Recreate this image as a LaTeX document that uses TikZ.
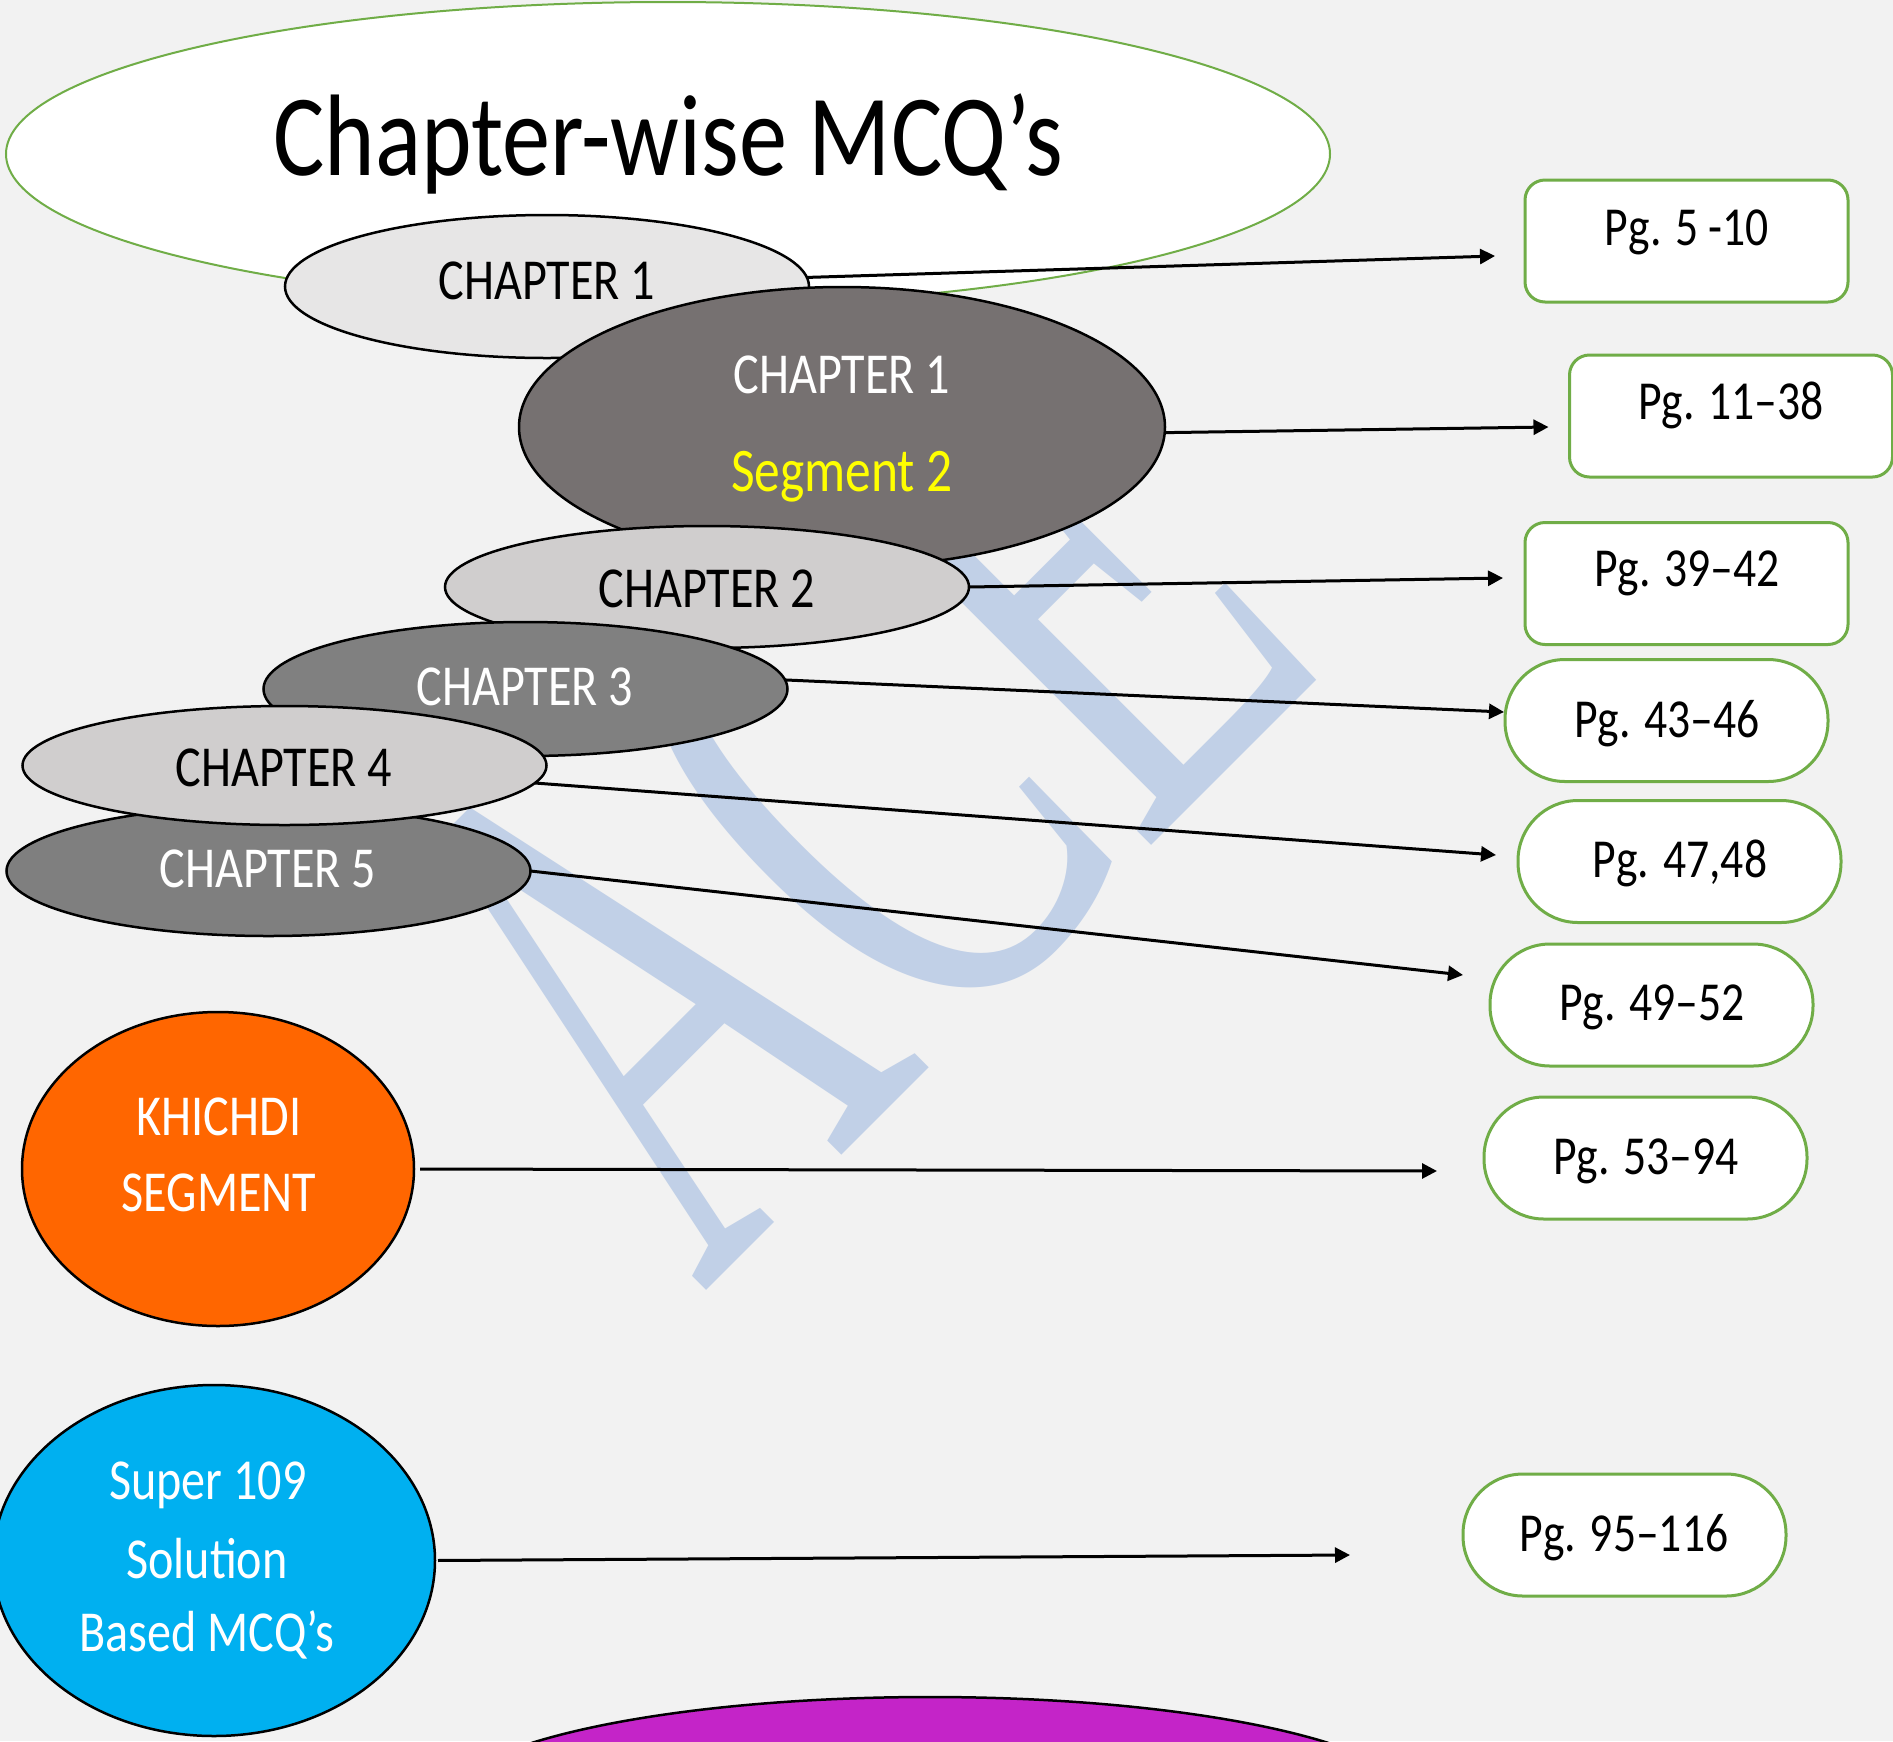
\documentclass[tikz,border=0pt]{standalone}
\usepackage{fontspec}
\setmainfont{Carlito}[FakeStretch=0.83]
\newfontfamily\wmfont{Liberation Serif}[FakeStretch=0.58]
\usetikzlibrary{shapes.geometric,arrows.meta,calc}
\definecolor{bg}{HTML}{F2F2F2}
\definecolor{titlegreen}{HTML}{70AD47}
\definecolor{boxgreen}{HTML}{70AD47}
\definecolor{ch1fill}{HTML}{E7E6E6}
\definecolor{seg2fill}{HTML}{767171}
\definecolor{ch2fill}{HTML}{D0CECE}
\definecolor{ch3fill}{HTML}{808080}
\definecolor{ch4fill}{HTML}{D0CECE}
\definecolor{ch5fill}{HTML}{7F7F7F}
\definecolor{khfill}{HTML}{FF6600}
\definecolor{supfill}{HTML}{00B0F0}
\definecolor{purp}{HTML}{C424C8}
\definecolor{segyellow}{HTML}{FFFF00}
\definecolor{wmblue}{HTML}{C1D0E7}
\newcommand{\fchap}{\fontsize{58}{60}\selectfont}
\newcommand{\fsegtext}{\fontsize{62}{64}\selectfont}
\newcommand{\ftitle}{\fontsize{116}{118}\selectfont}
\newcommand{\fpgtext}{\fontsize{55}{57}\selectfont}
\newcommand{\fwmark}{\wmfont\fontsize{770}{770}\selectfont}
\begin{document}
\begin{tikzpicture}[x=1pt,y=-1pt,
  ell/.style={ellipse,draw=black,line width=2.5pt,inner sep=0pt,outer sep=0pt},
  pgbox/.style={rectangle,draw=boxgreen,fill=white,line width=3pt,minimum width=323pt,minimum height=122pt,inner sep=0pt,outer sep=0pt},
  chaptxt/.style={inner sep=0pt,font=\fchap,text height=36.7pt,text depth=0pt},
  titletxt/.style={inner sep=0pt,font=\ftitle,text height=73pt,text depth=0pt},
  pgtxt/.style={inner sep=0pt,font=\fpgtext,text height=34.8pt,text depth=0pt},
  conn/.style={line width=3pt,-{Triangle[length=15pt,width=15pt]}},
]
\useasboundingbox (0,0) rectangle (1893,1741);
\clip (0,0) rectangle (1893,1741);
\fill[bg] (0,0) rectangle (1893,1741);
% watermark
\node[inner sep=0pt,rotate=45,text=wmblue,font=\fwmark] (wm) at (842,800) {ACE};
% ellipses
\node[ell,draw=titlegreen,line width=2pt,fill=white,minimum width=1324pt,minimum height=304pt] (title) at (668,154) {};
\node[ell,fill=ch1fill,minimum width=524pt,minimum height=143pt] (ch1) at (547,286.5) {};
\node[ell,fill=seg2fill,minimum width=646pt,minimum height=280pt] (seg2) at (842,427) {};
\node[ell,fill=ch2fill,minimum width=524pt,minimum height=122pt] (ch2) at (707,587) {};
\node[ell,fill=ch3fill,minimum width=524pt,minimum height=134pt] (ch3) at (525.5,689) {};
\node[ell,fill=ch5fill,minimum width=524pt,minimum height=130pt] (ch5) at (268.5,871) {};
\node[ell,fill=ch4fill,minimum width=524pt,minimum height=119pt] (ch4) at (284.5,765.5) {};
\node[ell,fill=khfill,minimum width=392pt,minimum height=314pt] (kh) at (218,1169) {};
\node[ell,fill=supfill,minimum width=442pt,minimum height=351pt] (sup) at (214,1560.5) {};
\node[ell,fill=purp,minimum width=980pt,minimum height=220pt] (purp) at (930,1807) {};
% boxes
\node[pgbox,rounded corners=20pt] (b1) at (1686.5,241) {};
\node[pgbox,rounded corners=20pt] (b2) at (1731,416) {};
\node[pgbox,rounded corners=20pt] (b3) at (1686.5,583.5) {};
\node[pgbox,rounded corners=60pt] (b4) at (1666.5,720.5) {};
\node[pgbox,rounded corners=60pt] (b5) at (1679.5,861.5) {};
\node[pgbox,rounded corners=60pt] (b6) at (1651.5,1005) {};
\node[pgbox,rounded corners=60pt] (b7) at (1645.5,1158) {};
\node[pgbox,rounded corners=60pt] (b8) at (1624.5,1535) {};
% texts
\node[titletxt] (ttitle) at (668,139) {Chapter-wise MCQ’s};
\node[chaptxt] (t1) at (547,281) {CHAPTER 1};
\node[chaptxt,text=white] (t1a) at (842,375) {CHAPTER 1};
\node[chaptxt,font=\fsegtext,text height=39pt,text=segyellow] (t1b) at (842,471.5) {Segment 2};
\node[chaptxt] (t2) at (707,589) {CHAPTER 2};
\node[chaptxt,text=white] (t3) at (525,687) {CHAPTER 3};
\node[chaptxt] (t4) at (284,768) {CHAPTER 4};
\node[chaptxt,text=white] (t5) at (268,869) {CHAPTER 5};
\node[chaptxt,text=white] (tk1) at (219,1117) {KHICHDI};
\node[chaptxt,text=white] (tk2) at (219,1193) {SEGMENT};
\node[chaptxt,text=white] (ts1) at (208,1481) {Super 109};
\node[chaptxt,text=white] (ts2) at (207,1560) {Solution};
\node[chaptxt,text=white] (ts3) at (207,1633) {Based MCQ’s};
\node[pgtxt] (p1) at (1687,228) {Pg. 5 -10};
\node[pgtxt] (p2) at (1731,402) {Pg. 11–38};
\node[pgtxt] (p3) at (1687,569) {Pg. 39–42};
\node[pgtxt] (p4) at (1667,720) {Pg. 43–46};
\node[pgtxt] (p5) at (1680,860) {Pg. 47,48};
\node[pgtxt] (p6) at (1652,1003) {Pg. 49–52};
\node[pgtxt] (p7) at (1646,1157) {Pg. 53–94};
\node[pgtxt] (p8) at (1624,1534) {Pg. 95–116};
% connectors
\draw[conn] (ch1.2) -- ($(b1.west)+(-30,15)$);
\draw[conn] (seg2.-1.5) -- ($(b2.west)+(-21,11)$);
\draw[conn] (ch2.east) -- ($(b3.west)+(-22,-5.5)$);
\draw[conn] (ch3.2) -- ($(b4.west)+(-1,-8.5)$);
\draw[conn] (ch4.-4) -- ($(b5.west)+(-22,-6.5)$);
\draw[conn] (ch5.east) -- ($(b6.west)+(-27,-30)$);
\draw[conn,shorten <=6pt] (kh.east) -- ($(b7.west)+(-47,13)$);
\draw[conn,shorten <=3pt] (sup.east) -- ($(b8.west)+(-113,20)$);
\end{tikzpicture}
\end{document}
